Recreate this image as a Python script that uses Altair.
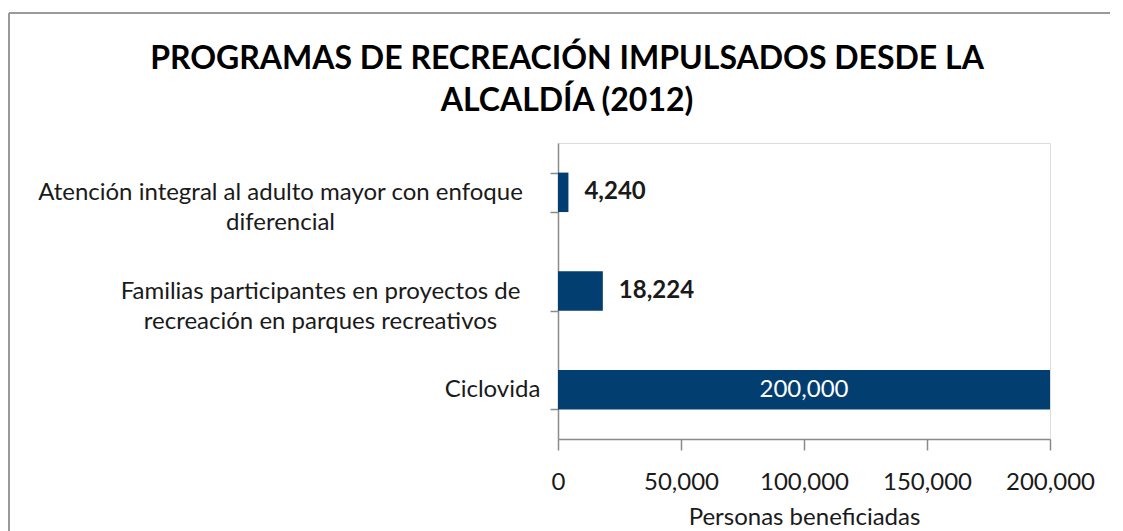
import altair as alt
import pandas as pd

# ---- data ----
categorias = [
    ["Atención integral al adulto mayor con enfoque", "diferencial"],
    ["Familias participantes en proyectos de", "recreación en parques recreativos"],
    ["Ciclovida"],
]
valores = [4240, 18224, 200000]
ticks_x = [0, 50000, 100000, 150000, 200000]
titulo = ["PROGRAMAS DE RECREACIÓN IMPULSADOS DESDE LA", "ALCALDÍA (2012)"]
titulo_x = "Personas beneficiadas"

df = pd.DataFrame({"categoria": ["|".join(c) for c in categorias], "valor": valores})
orden = list(df["categoria"])

FONT = "Lato"
FS = 24
BAR = "#033E71"
AXIS = "#8A8A8A"
TXT = "#1A1A1A"

x_scale = alt.Scale(domain=[0, 200000], nice=False)
y_scale = alt.Scale(paddingInner=0.6, paddingOuter=0.3)

pad_cond = {
    "condition": [
        {"test": f"datum.value === '{orden[2]}'", "value": 58},
        {"test": f"datum.value === '{orden[1]}'", "value": 230},
    ],
    "value": 270,
}

base = alt.Chart(df)

bars = base.mark_bar(color=BAR).encode(
    x=alt.X(
        "valor:Q",
        scale=x_scale,
        axis=alt.Axis(
            values=ticks_x,
            format=",d",
            title=titulo_x,
            grid=False,
            domainColor=AXIS,
            domainWidth=1.5,
            tickColor=AXIS,
            tickWidth=1.5,
            tickSize=11,
            labelFont=FONT,
            labelFontSize=FS,
            labelColor=TXT,
            labelPadding=20,
            labelFlush=False,
            titleFont=FONT,
            titleFontSize=FS,
            titleFontWeight="normal",
            titleColor=TXT,
            titlePadding=11,
        ),
    ),
    y=alt.Y(
        "categoria:N",
        sort=orden,
        scale=y_scale,
        axis=alt.Axis(
            title=None,
            grid=False,
            tickBand="extent",
            domainColor=AXIS,
            domainWidth=1.5,
            tickColor=AXIS,
            tickWidth=1.5,
            tickSize=8,
            labelExpr="split(datum.label, '|')",
            labelAlign="center",
            labelBaseline="middle",
            labelPadding=pad_cond,
            labelLimit=0,
            labelFont=FONT,
            labelFontSize=FS,
            labelColor=TXT,
            labelLineHeight=30,
        ),
    ),
)

outside = base.transform_filter("datum.valor < 100000").mark_text(
    align="left", baseline="middle", dx=16, font=FONT, fontSize=FS,
    fontWeight="bold", color=TXT,
).encode(
    x=alt.X("valor:Q", scale=x_scale),
    y=alt.Y("categoria:N", sort=orden, scale=y_scale),
    text=alt.Text("valor:Q", format=",d"),
)

inside = base.transform_filter("datum.valor >= 100000").transform_calculate(
    mitad="datum.valor / 2"
).mark_text(
    align="center", baseline="middle", font=FONT, fontSize=FS, color="white",
).encode(
    x=alt.X("mitad:Q", scale=x_scale),
    y=alt.Y("categoria:N", sort=orden, scale=y_scale),
    text=alt.Text("valor:Q", format=",d"),
)

frame_df = pd.DataFrame({"k": [0]})
left_border = alt.Chart(frame_df).mark_rule(color="#9A9A9A", strokeWidth=2).encode(
    x=alt.value(-549), y=alt.value(-130), y2=alt.value(420)
)
top_border = alt.Chart(frame_df).mark_rule(color="#9A9A9A", strokeWidth=2).encode(
    x=alt.value(-549), x2=alt.value(567), y=alt.value(-130)
)

chart = (
    alt.layer(left_border, top_border, bars, outside, inside)
    .properties(
        width=492,
        height=296,
        autosize=alt.AutoSizeParams(type="none"),
        padding={"top": 135, "left": 550, "right": 60, "bottom": 92},
        title=alt.TitleParams(
            titulo,
            font=FONT,
            fontSize=32,
            fontWeight="bold",
            color="black",
            anchor="middle",
            frame="bounds",
            offset=-106,
            lineHeight=42,
        ),
    )
    .configure_view(strokeWidth=0, stroke="transparent")
    .configure(background="white")
)

chart.save("out.html", embed_options={"renderer": "svg", "actions": False})
